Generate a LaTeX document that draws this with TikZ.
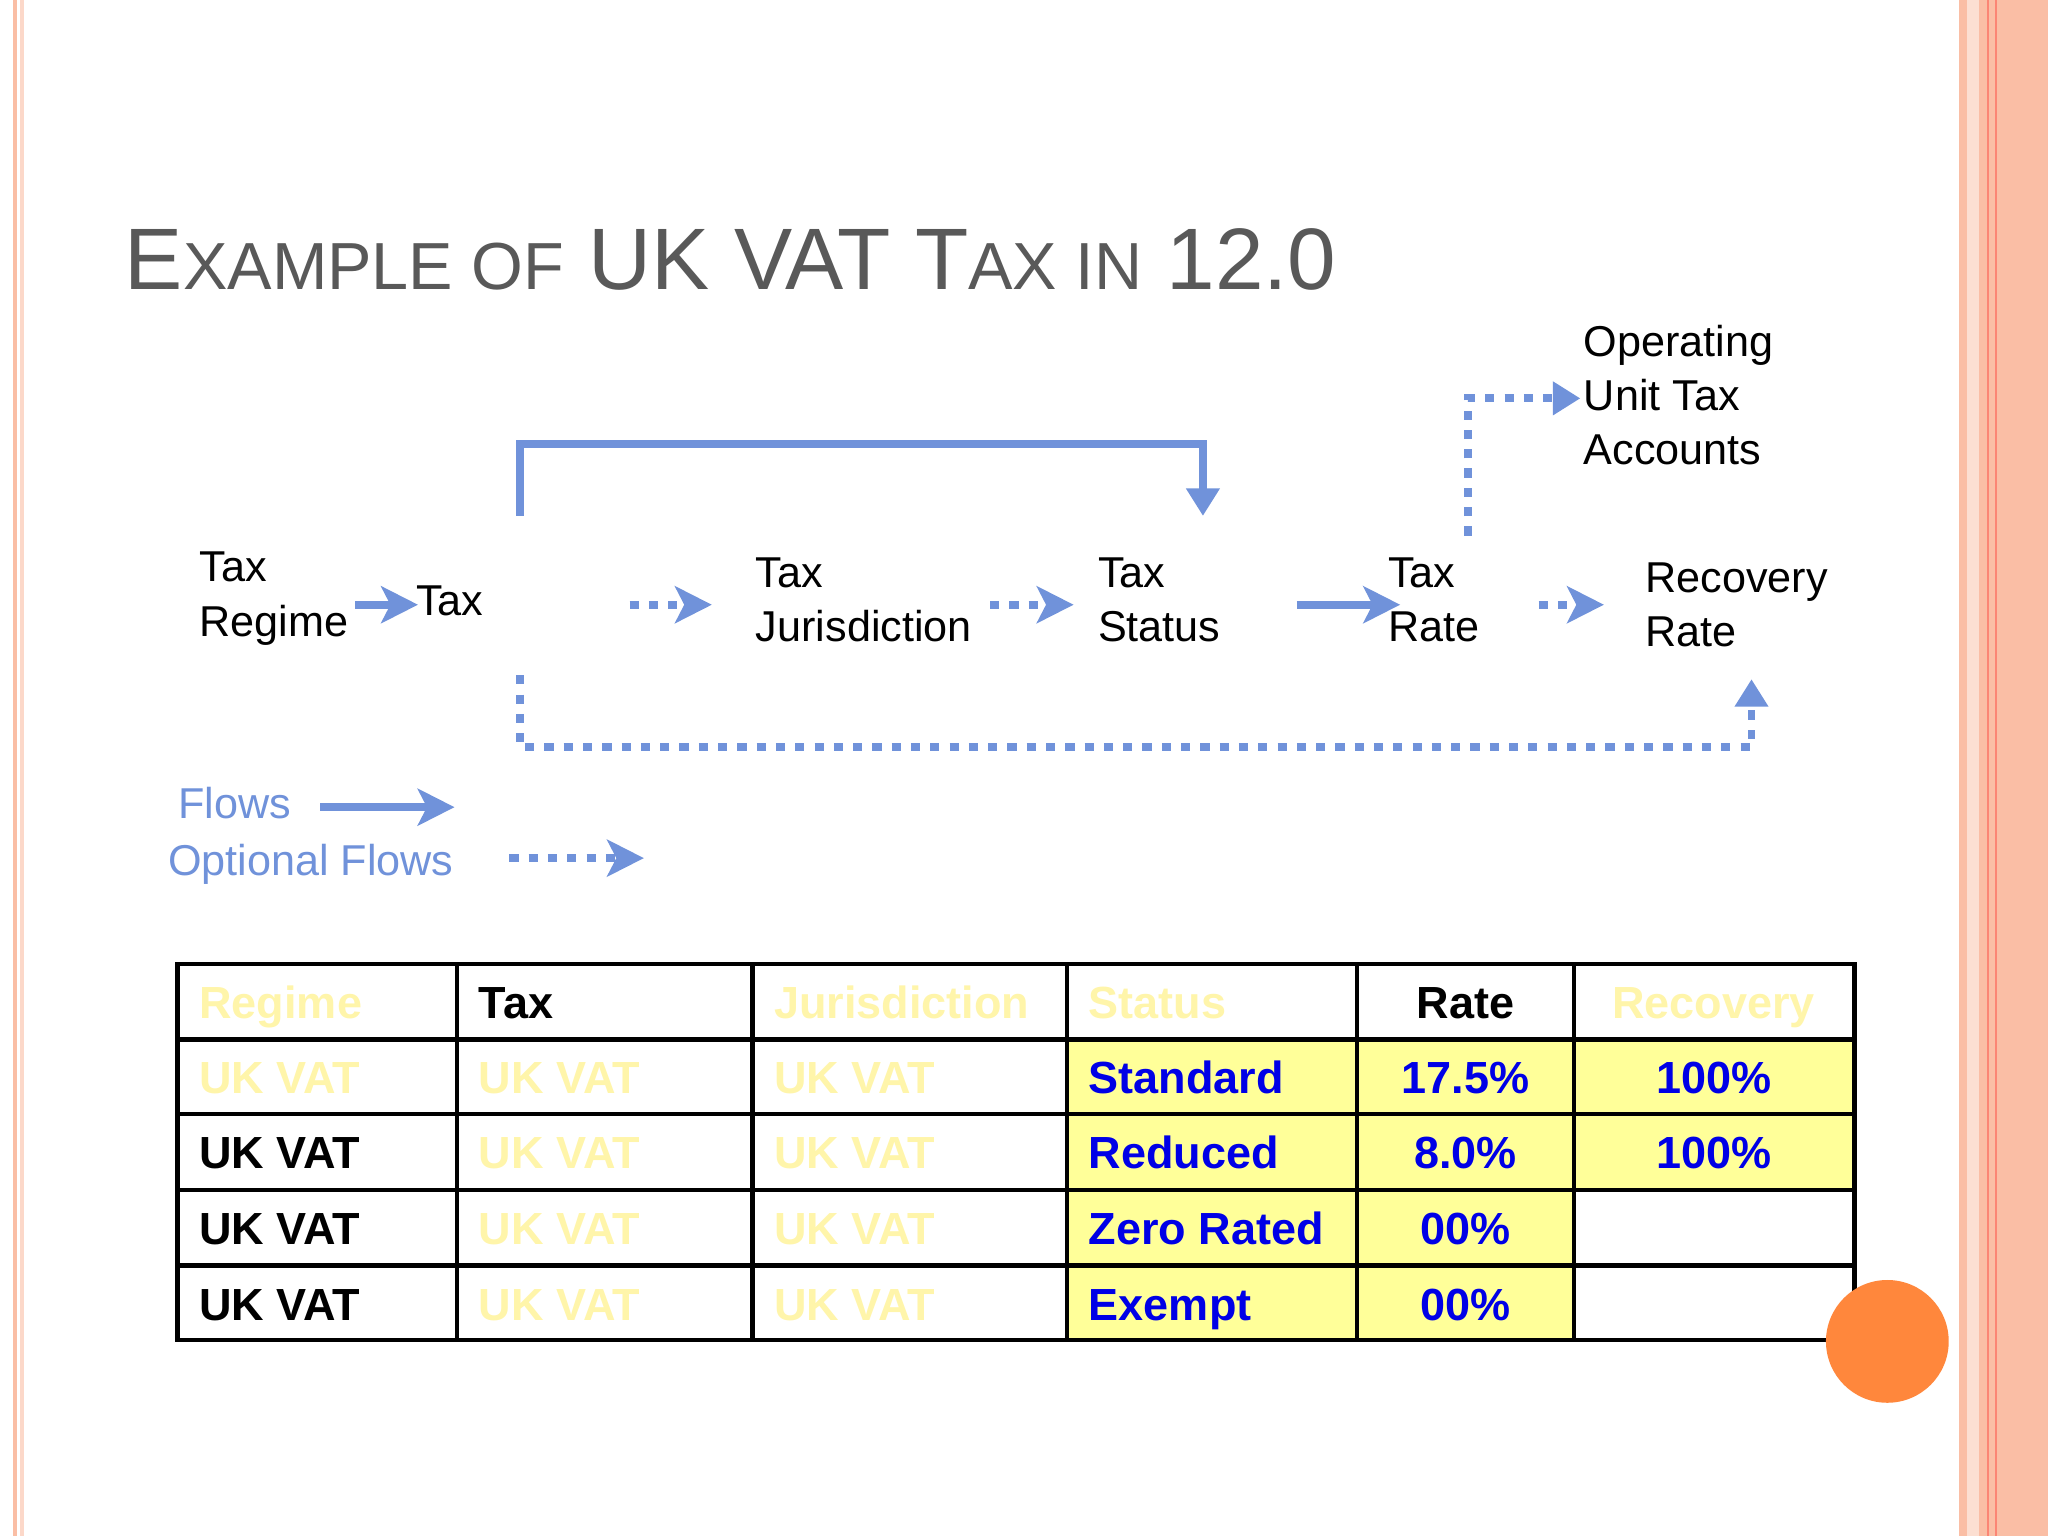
\documentclass[tikz,border=0pt]{standalone}
\usepackage{fontspec}
\setmainfont{Liberation Sans}
\usetikzlibrary{arrows.meta}
\definecolor{fl}{RGB}{112,146,218}
\definecolor{sal}{RGB}{250,190,165}
\definecolor{pale}{RGB}{255,245,170}
\definecolor{yel}{RGB}{255,255,153}
\definecolor{tblue}{RGB}{0,0,230}
\definecolor{ttl}{RGB}{89,89,89}
\begin{document}
\begin{tikzpicture}[x=0.01cm,y=-0.01cm,
  lbl/.style={font=\fontsize{9.4}{11.8}\selectfont,align=left,inner sep=0pt,anchor=north west},
  solidflow/.style={draw=fl,line width=1.7pt,-{Stealth[length=8pt,width=8pt,inset=2pt]}},
  dotflow/.style={draw=fl,line width=1.7pt,dash pattern=on 2pt off 2.2pt,-{Stealth[length=8pt,width=8pt,inset=2pt]}},
  tri/.style={-{Triangle[length=6pt,width=7pt]}},
  cell/.style={font=\fontsize{9.8}{11}\selectfont\bfseries,inner sep=0pt}]
\useasboundingbox (0,0) rectangle (1568,1176);
\fill[white] (0,0) rectangle (1568,1176);
% borders
\fill[sal] (10,0) rectangle (13,1176);
\fill[sal!60] (15,0) rectangle (18,1176);
\fill[sal] (1500,0) rectangle (1506,1176);
\fill[sal!50] (1506,0) rectangle (1515,1176);
\fill[sal] (1515,0) rectangle (1568,1176);
\draw[sal!70!red,line width=0.4pt] (1522,0)--(1522,1176) (1528,0)--(1528,1176);
% title
\node[anchor=base west,inner sep=0pt,text=ttl,font=\fontsize{19}{22}\selectfont] (title) at (95,222)
 {E{\fontsize{14.5}{16}\selectfont XAMPLE OF} UK VAT T{\fontsize{14.5}{16}\selectfont AX IN} 12.0};
% nodes
\node[lbl] (regime) at (152,422) {Tax\\Regime};
\node[lbl] (tax) at (318,448) {Tax};
\node[lbl] (jur) at (578,426) {Tax\\Jurisdiction};
\node[lbl] (status) at (840,426) {Tax\\Status};
\node[lbl] (rate) at (1062,426) {Tax\\Rate};
\node[lbl] (rec) at (1259,430) {Recovery\\Rate};
\node[lbl] (ou) at (1212,248) {Operating\\Unit Tax\\Accounts};
\coordinate (a1) at (272,463); \coordinate (a2) at (320,463);
\draw[solidflow] (a1)--(a2);
\coordinate (b1) at (482,463); \coordinate (b2) at (545,463);
\draw[dotflow] (b1)--(b2);
\coordinate (c1) at (758,463); \coordinate (c2) at (822,463);
\draw[dotflow] (c1)--(c2);
\coordinate (d1) at (993,463); \coordinate (d2) at (1072,463);
\draw[solidflow] (d1)--(d2);
\coordinate (e1) at (1178,463); \coordinate (e2) at (1228,463);
\draw[dotflow] (e1)--(e2);
% bracket
\coordinate (t1) at (398,395); \coordinate (t2) at (921,395);
\draw[draw=fl,line width=1.7pt,tri] (t1)--(398,340)--(921,340)--(t2);
% up to OU
\coordinate (u1) at (1124,410); \coordinate (u2) at (1210,305);
\draw[draw=fl,line width=1.7pt,dash pattern=on 2pt off 2.2pt,tri] (u1)--(1124,305)--(u2);
% bottom
\coordinate (w1) at (398,517); \coordinate (w2) at (1341,520);
\draw[draw=fl,line width=1.7pt,dash pattern=on 2pt off 2.2pt,tri] (w1)--(398,572)--(1341,572)--(w2);
% legend
\node[lbl,text=fl,anchor=west] (lf) at (136,615) {Flows};
\node[lbl,text=fl,anchor=west] (lo) at (128,662) {Optional Flows};
\coordinate (l1) at (245,618); \coordinate (l2) at (348,618);
\draw[solidflow] (l1)--(l2);
\coordinate (m1) at (390,657); \coordinate (m2) at (493,657);
\draw[dotflow] (m1)--(m2);
% table
\fill[yel] (817,796) rectangle (1420,911);
\fill[yel] (817,911) rectangle (1205,1026);
\draw[line width=1pt] (136,738) rectangle (1420,1026);
\foreach \x in {350,576,817,1039,1205} \draw[line width=1pt] (\x,738)--(\x,1026);
\foreach \y in {796,853,911,969} \draw[line width=1pt] (136,\y)--(1420,\y);
\node[cell,anchor=base west,text=pale] (h1) at (152,780) {Regime};
\node[cell,anchor=base west] (h2) at (366,780) {Tax};
\node[cell,anchor=base west,text=pale] (h3) at (592,780) {Jurisdiction};
\node[cell,anchor=base west,text=pale] (h4) at (833,780) {Status};
\node[cell,anchor=base] (h5) at (1122,780) {Rate};
\node[cell,anchor=base,text=pale] (h6) at (1312,780) {Recovery};
\node[cell,anchor=base west,text=pale] (r1a) at (152,837) {UK VAT};
\node[cell,anchor=base west] (r2a) at (152,895) {UK VAT};
\node[cell,anchor=base west] (r3a) at (152,953) {UK VAT};
\node[cell,anchor=base west] (r4a) at (152,1011) {UK VAT};
\foreach \y [count=\i] in {837,895,953,1011}{
 \node[cell,anchor=base west,text=pale] (rb\i) at (366,\y) {UK VAT};
 \node[cell,anchor=base west,text=pale] (rc\i) at (592,\y) {UK VAT};}
\node[cell,anchor=base west,text=tblue] (s1) at (833,837) {Standard};
\node[cell,anchor=base west,text=tblue] (s2) at (833,895) {Reduced};
\node[cell,anchor=base west,text=tblue] (s3) at (833,953) {Zero Rated};
\node[cell,anchor=base west,text=tblue] (s4) at (833,1011) {Exempt};
\node[cell,anchor=base,text=tblue] (p1) at (1122,837) {17.5\%};
\node[cell,anchor=base,text=tblue] (p2) at (1122,895) {8.0\%};
\node[cell,anchor=base,text=tblue] (p3) at (1122,953) {00\%};
\node[cell,anchor=base,text=tblue] (p4) at (1122,1011) {00\%};
\node[cell,anchor=base,text=tblue] (q1) at (1312,837) {100\%};
\node[cell,anchor=base,text=tblue] (q2) at (1312,895) {100\%};
\fill[fill={rgb,255:red,255;green,135;blue,60}] (1445,1027) circle (47);
\end{tikzpicture}
\end{document}
